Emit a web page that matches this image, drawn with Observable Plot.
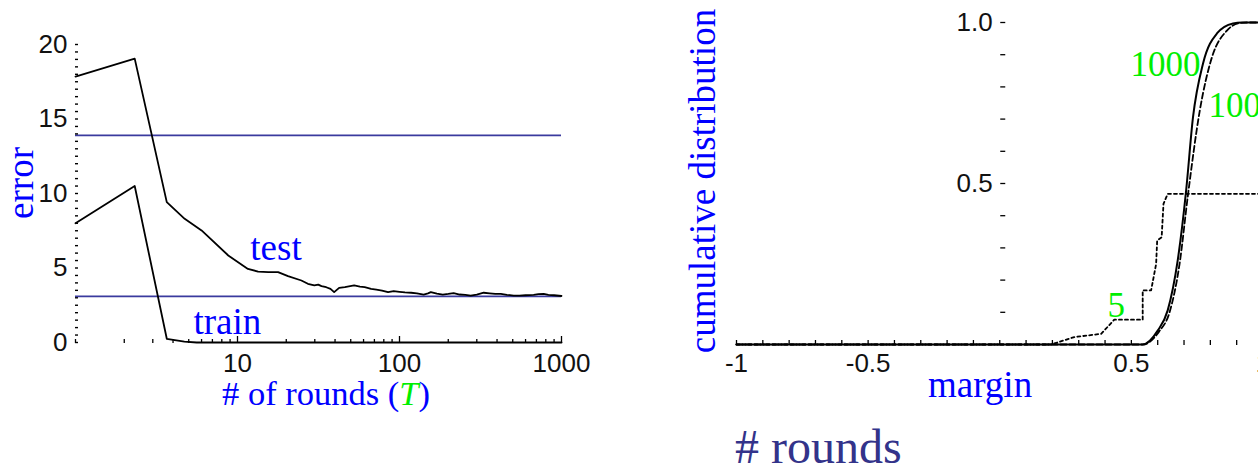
<!DOCTYPE html>
<html>
<head>
<meta charset="utf-8">
<script src="https://cdn.jsdelivr.net/npm/d3@7"></script>
<script src="https://cdn.jsdelivr.net/npm/@observablehq/plot@0.6"></script>
<style>
html, body { margin: 0; padding: 0; background: #fff; overflow: hidden; }
#wrap { position: relative; width: 1258px; height: 466px; overflow: hidden; background: #fff; }
#left { position: absolute; left: 0; top: 0; width: 640px; height: 466px; }
#right { position: absolute; left: 640px; top: 0; width: 700px; height: 466px; }
svg { max-width: none !important; }
</style>
</head>
<body>
<div id="wrap"><div id="left"></div><div id="right"></div></div>
<script>
// ---------- Left panel data: error vs # of rounds ----------
const testRounds = [1, 2.32, 3.66, 4.72, 6.0, 8.77, 11.6, 13.4, 15.5, 17.8, 20.5, 24.8, 27.2, 29.8, 31.5, 33, 35.3, 37.5, 39.5, 42.4, 46, 52.5, 57, 61, 66.8, 72, 78, 85, 92, 100, 108, 118, 128, 141, 150, 156, 170, 185, 200, 216, 235, 255, 275, 300, 331, 360, 390, 422, 460, 507, 550, 600, 673, 720, 776, 830, 900, 1000];
const testError  = [17.85, 19.05, 9.42, 8.3, 7.52, 5.84, 4.94, 4.76, 4.72, 4.72, 4.45, 4.16, 3.94, 3.83, 3.88, 3.78, 3.71, 3.6, 3.38, 3.67, 3.72, 3.83, 3.75, 3.72, 3.6, 3.55, 3.48, 3.38, 3.45, 3.4, 3.36, 3.34, 3.3, 3.22, 3.3, 3.38, 3.28, 3.22, 3.26, 3.31, 3.22, 3.2, 3.15, 3.22, 3.34, 3.3, 3.26, 3.27, 3.2, 3.15, 3.15, 3.17, 3.2, 3.24, 3.27, 3.2, 3.17, 3.12];
const trainRounds = [1, 2.32, 3.66, 4.7, 5.6, 1000];
const trainError  = [8.0, 10.5, 0.25, 0.06, 0, 0];
const boundLevels = [13.9, 3.1];
const errorTickLabels = [0, 5, 10, 15, 20];
const errorMinorTicks = d3.range(0, 20.5, 0.5);
const roundTickLabels = [10, 100, 1000];
const roundMinorTicks = [1, 2, 3, 4, 5, 6, 7, 8, 9, 20, 30, 40, 50, 60, 70, 80, 90, 200, 300, 400, 500, 600, 700, 800, 900];
const curveLabels = ["test", "train"];
const curveLabelRounds = [12.0, 5.35];
const curveLabelError = [5.57, 0.6];

// ---------- Right panel data: cumulative margin distribution ----------
const margins1000 = [-1, 0.543, 0.60, 0.638, 0.676, 0.708, 0.734, 0.772, 0.825, 0.886, 0.92, 1];
const cdf1000     = [0, 0, 0.043, 0.106, 0.261, 0.478, 0.705, 0.872, 0.966, 0.997, 1, 1];
const margins100  = [-1, 0.543, 0.605, 0.645, 0.683, 0.715, 0.76, 0.806, 0.863, 0.905, 0.94, 1];
const cdf100      = [0, 0, 0.04, 0.1, 0.25, 0.465, 0.727, 0.892, 0.975, 0.997, 1, 1];
const margins5    = [-1, 0.195, 0.283, 0.385, 0.435, 0.543, 0.543, 0.575, 0.594, 0.598, 0.615, 0.622, 0.638, 1];
const cdf5        = [0, 0, 0.023, 0.033, 0.077, 0.077, 0.168, 0.168, 0.25, 0.323, 0.333, 0.437, 0.468, 0.468];
const marginTickLabels = [-1, -0.5, 0.5, 1];
const marginMinorTicks = d3.range(-10, 11).map(i => i / 10);
const cdfTickLabels = [0.5, 1.0];
const cdfMinorTicks = d3.range(1, 11).map(i => i / 10);
const roundsLabels = ["1000", "100", "5"];
const roundsLabelMargin = [0.763, 0.793, 0.409];
const roundsLabelCdf = [0.835, 0.705, 0.084];

// ---------- helpers ----------
const sans = "'Liberation Sans', Arial, Helvetica, sans-serif";
const serif = "'Liberation Serif', 'Times New Roman', Times, serif";
const BLUE = "#0000ff", GREEN = "#00ee00";
const zip = (xs, ys) => xs.map((x, i) => ({x, y: ys[i]}));

function addLabel(svg, x, y, parts, {size = 37, rotate = 0, anchor = "start", family = serif} = {}) {
  const t = d3.select(svg).append("text")
    .attr("transform", `translate(${x},${y})` + (rotate ? ` rotate(${rotate})` : ""))
    .attr("text-anchor", anchor)
    .attr("font-family", family)
    .attr("font-size", size)
    .attr("stroke", "none");
  for (const [s, fill, italic] of parts) {
    t.append("tspan").attr("fill", fill).attr("font-style", italic ? "italic" : "normal").text(s);
  }
}

const H = 466;

// ---------- Left plot ----------
const W1 = 640, ml1 = 75, mr1 = 79, mt1 = 44, mb1 = 124;
const innerW1 = W1 - ml1 - mr1, innerH1 = H - mt1 - mb1;
const testData = zip(testRounds, testError);
const trainData = zip(trainRounds, trainError);
const leftLabels = curveLabels.map((t, i) => ({t, x: curveLabelRounds[i], y: curveLabelError[i]}));

const left = Plot.plot({
  width: W1, height: H,
  marginLeft: ml1, marginRight: mr1, marginTop: mt1, marginBottom: mb1,
  style: "background:#fff;max-width:none;overflow:visible;",
  x: {type: "log", domain: [1, 1000]},
  y: {domain: [0, 20]},
  marks: [
    Plot.ruleY(boundLevels, {stroke: "#3a3a9e", strokeWidth: 1.7}),
    Plot.line(testData, {x: "x", y: "y", stroke: "#000", strokeWidth: 1.8}),
    Plot.line(trainData, {x: "x", y: "y", stroke: "#000", strokeWidth: 1.8}),
    Plot.axisY(errorMinorTicks, {anchor: "right", dx: -innerW1 - 1, tickSize: 3, fill: "none", stroke: "#000", strokeWidth: 1.4}),
    Plot.axisY(errorTickLabels, {anchor: "left", tickSize: 0, tickPadding: 8, fontSize: 26, fontFamily: sans, fill: "#111", label: null, tickFormat: d => String(d)}),
    Plot.axisX(roundMinorTicks, {anchor: "top", dy: innerH1, tickSize: 4, fill: "none", stroke: "#000", strokeWidth: 1.3}),
    Plot.axisX(roundTickLabels, {anchor: "top", dy: innerH1, tickSize: 7, fill: "none", stroke: "#000", strokeWidth: 1.3}),
    Plot.axisX(roundTickLabels, {anchor: "bottom", tickSize: 0, tickPadding: 11, fontSize: 26, fontFamily: sans, fill: "#111", label: null, tickFormat: d => String(d)}),
    Plot.text(leftLabels, {x: "x", y: "y", text: "t", fill: BLUE, fontFamily: serif, fontSize: 37, textAnchor: "start", lineAnchor: "bottom"})
  ]
});
addLabel(left, 33, 183, [["error", BLUE]], {rotate: -90, anchor: "middle"});
addLabel(left, 222, 405, [["# of rounds (", BLUE], ["T", GREEN, true], [")", BLUE]], {size: 34.5});
document.getElementById("left").appendChild(left);

// ---------- Right plot ----------
const W2 = 700, ml2 = 96, mr2 = 77.5, mt2 = 22, mb2 = 122;
const innerW2 = W2 - ml2 - mr2, innerH2 = H - mt2 - mb2;
const xPos = Plot.scale({x: {domain: [-1, 1], range: [ml2, W2 - mr2]}});
const x0 = xPos.apply(0);
const d1000 = zip(margins1000, cdf1000);
const d100 = zip(margins100, cdf100);
const d5 = zip(margins5, cdf5);
const lab = (i) => [{t: roundsLabels[i], x: roundsLabelMargin[i], y: roundsLabelCdf[i]}];

const right = Plot.plot({
  width: W2, height: H,
  marginLeft: ml2, marginRight: mr2, marginTop: mt2, marginBottom: mb2,
  style: "background:#fff;max-width:none;overflow:visible;",
  x: {domain: [-1, 1]},
  y: {domain: [0, 1]},
  marks: [
    Plot.line(d5, {x: "x", y: "y", stroke: "#000", strokeWidth: 1.8, strokeDasharray: "3,3"}),
    Plot.line(d100, {x: "x", y: "y", stroke: "#000", strokeWidth: 1.8, strokeDasharray: "6,3", curve: "monotone-x"}),
    Plot.line(d1000, {x: "x", y: "y", stroke: "#000", strokeWidth: 2, curve: "monotone-x"}),
    Plot.axisY(cdfMinorTicks, {anchor: "right", dx: x0 - (W2 - mr2), tickSize: 5, fill: "none", stroke: "#000", strokeWidth: 1.3}),
    Plot.axisY(cdfTickLabels, {anchor: "left", dx: x0 - ml2, tickSize: 0, tickPadding: 7, fontSize: 26, fontFamily: sans, fill: "#111", label: null, tickFormat: d => d.toFixed(1)}),
    Plot.axisX(marginMinorTicks, {anchor: "top", dy: innerH2, tickSize: 5, fill: "none", stroke: "#000", strokeWidth: 1.3}),
    Plot.axisX(marginTickLabels, {anchor: "bottom", tickSize: 0, tickPadding: 9, fontSize: 26, fontFamily: sans, fill: "#111", label: null, tickFormat: d => String(d)}),
    Plot.text(lab(0), {x: "x", y: "y", text: "t", fill: GREEN, fontFamily: serif, fontSize: 35, textAnchor: "end", lineAnchor: "bottom"}),
    Plot.text(lab(1), {x: "x", y: "y", text: "t", fill: GREEN, fontFamily: serif, fontSize: 35, textAnchor: "start", lineAnchor: "bottom"}),
    Plot.text(lab(2), {x: "x", y: "y", text: "t", fill: GREEN, fontFamily: serif, fontSize: 35, textAnchor: "start", lineAnchor: "bottom"})
  ]
});
addLabel(right, 75, 181, [["cumulative distribution", BLUE]], {rotate: -90, anchor: "middle"});
addLabel(right, 288, 397, [["margin", BLUE]]);
addLabel(right, 95, 463, [["# rounds", "#33338a"]], {size: 48});
document.getElementById("right").appendChild(right);
</script>
</body>
</html>
